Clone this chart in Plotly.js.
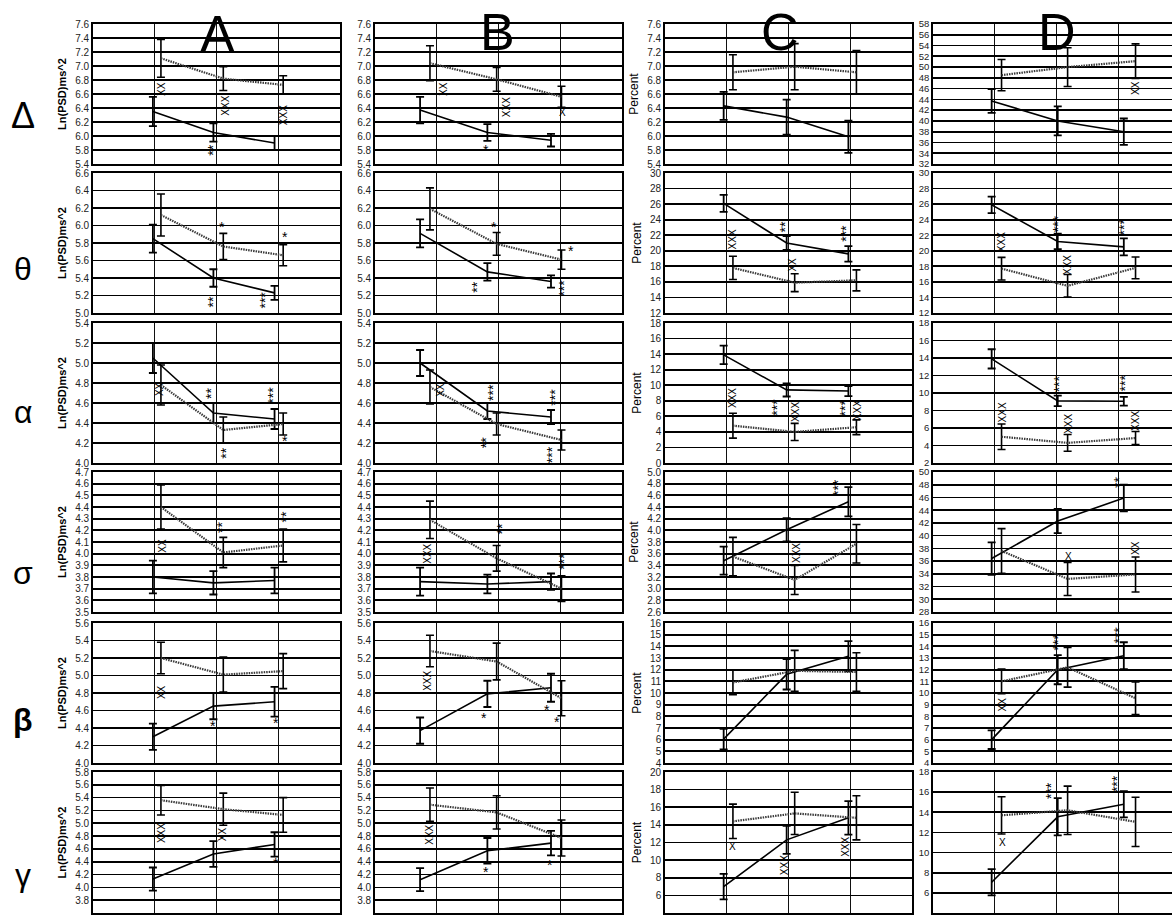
<!DOCTYPE html>
<html><head><meta charset="utf-8">
<script src="https://cdn.plot.ly/plotly-3.0.1.min.js"></script>
<style>html,body{margin:0;padding:0;background:#fff}#chart{width:1172px;height:915px}</style>
</head><body><div id="chart"></div>
<script>
// ---------- categories ----------
const columns = ["A", "B", "C", "D"];
const bands = ["Δ", "θ", "α", "σ", "β", "γ"];
const timepoints = [1, 2, 3];
const yTitles = ["Ln(PSD)ms^2", "", "Percent", ""];

// ---------- series values (rows: Δ, θ, α, σ, β, γ; 3 time points) ----------
const A_solid = [[6.35, 6.05, 5.90], [5.85, 5.40, 5.23], [5.05, 4.50, 4.44], [3.80, 3.75, 3.77], [4.30, 4.65, 4.70], [4.13, 4.52, 4.67]];
const A_solidErr = [[0.21, 0.13, 0.10], [0.16, 0.10, 0.08], [0.15, 0.10, 0.10], [0.14, 0.10, 0.11], [0.15, 0.15, 0.17], [0.18, 0.20, 0.19]];
const A_dotted = [[7.11, 6.82, 6.73], [6.12, 5.76, 5.66], [4.78, 4.33, 4.39], [4.40, 4.01, 4.07], [5.20, 5.01, 5.05], [5.36, 5.22, 5.13]];
const A_dottedErr = [[0.27, 0.17, 0.13], [0.24, 0.15, 0.12], [0.20, 0.13, 0.11], [0.19, 0.13, 0.14], [0.18, 0.20, 0.20], [0.23, 0.25, 0.27]];

const B_solid = [[6.37, 6.05, 5.94], [5.91, 5.47, 5.36], [5.00, 4.52, 4.46], [3.76, 3.74, 3.76], [4.37, 4.79, 4.86], [4.12, 4.57, 4.69]];
const B_solidErr = [[0.19, 0.12, 0.09], [0.16, 0.10, 0.07], [0.13, 0.08, 0.07], [0.12, 0.08, 0.07], [0.15, 0.15, 0.16], [0.18, 0.20, 0.19]];
const B_dotted = [[7.04, 6.81, 6.56], [6.19, 5.79, 5.61], [4.76, 4.39, 4.23], [4.29, 3.96, 3.70], [5.28, 5.16, 4.74], [5.29, 5.17, 4.77]];
const B_dottedErr = [[0.25, 0.17, 0.15], [0.24, 0.13, 0.11], [0.17, 0.11, 0.10], [0.16, 0.11, 0.11], [0.18, 0.21, 0.20], [0.26, 0.26, 0.28]];

const C_solid = [[6.43, 6.27, 5.99], [26.1, 21.0, 19.6], [13.9, 9.4, 9.25], [3.48, 4.01, 4.49], [6.05, 11.6, 13.15], [7.0, 12.3, 14.8]];
const C_solidErr = [[0.20, 0.25, 0.23], [1.1, 0.9, 1.0], [1.2, 0.85, 0.65], [0.24, 0.20, 0.25], [0.88, 1.3, 1.3], [1.45, 1.6, 1.9]];
const C_dotted = [[6.91, 6.99, 6.91], [17.8, 15.9, 16.2], [4.8, 4.0, 4.6], [3.55, 3.15, 3.77], [10.9, 11.9, 11.8], [14.4, 15.3, 14.8]];
const C_dottedErr = [[0.25, 0.33, 0.31], [1.5, 1.15, 1.35], [1.6, 1.1, 0.95], [0.33, 0.25, 0.33], [1.05, 1.75, 1.65], [1.95, 2.4, 2.5]];

const D_solid = [[43.7, 40.0, 38.0], [25.9, 21.2, 20.5], [13.9, 9.1, 9.05], [36.4, 42.3, 45.9], [6.0, 12.0, 13.2], [7.05, 13.55, 14.8]];
const D_solidErr = [[2.2, 2.7, 2.45], [1.05, 1.0, 1.1], [1.1, 0.6, 0.5], [2.55, 1.9, 2.1], [0.8, 1.25, 1.15], [1.3, 1.85, 1.3]];
const D_dotted = [[48.5, 50.0, 51.1], [17.7, 15.5, 17.8], [5.0, 4.3, 4.85], [37.6, 33.2, 33.9], [11.0, 12.2, 9.55], [13.7, 14.2, 13.05]];
const D_dottedErr = [[2.9, 3.6, 3.2], [1.45, 1.45, 1.4], [1.45, 0.95, 0.75], [3.5, 2.6, 2.75], [1.05, 1.7, 1.4], [1.85, 2.4, 2.45]];

// ---------- significance marks: [text, x, y] in each panel's data units ----------
const A_marks = [
  [["XX", 1.10, 6.67], ["XXX", 2.15, 6.43], ["XXX", 3.08, 6.30], ["**", 1.94, 5.80]],
  [["*", 2.09, 5.98], ["*", 3.11, 5.87], ["**", 1.94, 5.13], ["***", 2.78, 5.15]],
  [["XX", 1.07, 4.74], ["**", 1.91, 4.70], ["***", 2.91, 4.68], ["**", 2.15, 4.10], ["*", 3.11, 4.22]],
  [["XX", 1.12, 4.07], ["**", 2.09, 4.22], ["**", 3.11, 4.31]],
  [["XX", 1.10, 4.81], ["*", 1.94, 4.42], ["*", 2.96, 4.46]],
  [["XXX", 1.12, 4.85], ["XX", 2.09, 4.83], ["*", 2.96, 4.38]]
];
const B_marks = [
  [["XX", 1.10, 6.67], ["XXX", 2.12, 6.41], ["X", 3.04, 6.33], ["*", 1.80, 5.80]],
  [["*", 1.93, 5.98], ["*", 3.17, 5.71], ["**", 1.65, 5.30], ["***", 3.06, 5.29]],
  [["XX", 1.05, 4.73], ["***", 1.91, 4.71], ["***", 2.91, 4.66], ["**", 1.80, 4.20], ["***", 2.87, 4.08]],
  [["XXX", 0.86, 4.00], ["**", 2.06, 4.21], ["***", 3.06, 3.94]],
  [["XXX", 0.86, 4.94], ["*", 1.77, 4.51], ["*", 2.79, 4.61], ["*", 2.95, 4.47]],
  [["XXX", 0.89, 4.82], ["*", 1.80, 4.24], ["*", 2.83, 4.35]]
];
const C_marks = [
  [],
  [["XXX", 1.09, 21.5], ["**", 1.94, 23.1], ["***", 2.93, 22.3], ["XX", 2.07, 18.2]],
  [["XXX", 1.09, 8.4], ["***", 1.81, 7.2], ["XXX", 2.11, 6.6], ["***", 2.91, 7.1], ["XXX", 3.11, 6.8]],
  [["***", 2.80, 4.74], ["XXX", 2.12, 3.61]],
  [],
  [["X", 1.09, 11.6], ["XXX", 1.94, 9.4], ["XXX", 2.93, 11.5]]
];
const D_marks = [
  [["XX", 3.27, 46.1]],
  [["XXX", 1.10, 21.1], ["***", 2.02, 23.5], ["***", 3.09, 23.1], ["XXX", 2.19, 18.2]],
  [["XXX", 1.12, 7.8], ["***", 2.04, 11.1], ["***", 3.11, 11.1], ["XXX", 2.19, 6.5], ["XXX", 3.27, 6.8]],
  [["**", 3.01, 48.4], ["X", 2.20, 36.8], ["XX", 3.29, 38.1]],
  [["XX", 1.13, 9.0], ["***", 2.02, 14.4], ["***", 3.01, 15.0]],
  [["X", 1.12, 11.0], ["***", 1.91, 16.2], ["***", 2.98, 16.8]]
];

// ---------- tick labels ----------
const ticksLnDelta = ["5.4", "5.8", "6.0", "6.2", "6.4", "6.6", "6.8", "7.0", "7.2", "7.4", "7.6"];
const ticksLnTheta = ["5.0", "5.2", "5.4", "5.6", "5.8", "6.0", "6.2", "6.4", "6.6"];
const ticksLnAlpha = ["4.0", "4.2", "4.4", "4.6", "4.8", "5.0", "5.2", "5.4"];
const ticksLnSigma = ["3.5", "3.6", "3.7", "3.8", "3.9", "4.0", "4.1", "4.2", "4.3", "4.4", "4.5", "4.6", "4.7"];
const ticksLnBeta = ["4.0", "4.2", "4.4", "4.6", "4.8", "5.0", "5.2", "5.4", "5.6"];
const ticksLnGamma = ["3.6", "3.8", "4.0", "4.2", "4.4", "4.6", "4.8", "5.0", "5.2", "5.4", "5.6", "5.8"];
const ticksPctTheta = ["12", "14", "16", "18", "20", "22", "24", "26", "28", "30"];
const ticksCAlpha = ["0", "2", "4", "6", "8", "10", "12", "14", "16", "18"];
const ticksCSigma = ["2.6", "2.8", "3.0", "3.2", "3.4", "3.6", "3.8", "4.0", "4.2", "4.4", "4.6", "4.8", "5.0"];
const ticksPctBeta = ["4", "5", "6", "7", "8", "9", "10", "11", "12", "13", "14", "15", "16"];
const ticksCGamma = ["4", "6", "8", "10", "12", "14", "16", "18", "20"];
const ticksDDelta = ["32", "34", "36", "38", "40", "42", "44", "46", "48", "50", "52", "54", "56", "58"];
const ticksDAlpha = ["2", "4", "6", "8", "10", "12", "14", "16", "18"];
const ticksDSigma = ["28", "30", "32", "34", "36", "38", "40", "42", "44", "46", "48", "50"];
const ticksDGamma = ["4", "6", "8", "10", "12", "14", "16", "18"];

const yRangeAB = [[5.6, 7.6], [5.0, 6.6], [4.0, 5.4], [3.5, 4.7], [4.0, 5.6], [3.6, 5.8]];
const yRangeC = [[5.6, 7.6], [12, 30], [0, 18], [2.6, 5.0], [4, 16], [4, 20]];
const yRangeD = [[32, 58], [12, 30], [2, 18], [28, 50], [4, 16], [4, 18]];

const tickSets = [
  [ticksLnDelta, ticksLnTheta, ticksLnAlpha, ticksLnSigma, ticksLnBeta, ticksLnGamma],
  [ticksLnDelta, ticksLnTheta, ticksLnAlpha, ticksLnSigma, ticksLnBeta, ticksLnGamma],
  [ticksLnDelta, ticksPctTheta, ticksCAlpha, ticksCSigma, ticksPctBeta, ticksCGamma],
  [ticksDDelta, ticksPctTheta, ticksDAlpha, ticksDSigma, ticksPctBeta, ticksDGamma]
];
const rangeSets = [yRangeAB, yRangeAB, yRangeC, yRangeD];
const solidSets = [A_solid, B_solid, C_solid, D_solid];
const solidErrSets = [A_solidErr, B_solidErr, C_solidErr, D_solidErr];
const dottedSets = [A_dotted, B_dotted, C_dotted, D_dotted];
const dottedErrSets = [A_dottedErr, B_dottedErr, C_dottedErr, D_dottedErr];
const markSets = [A_marks, B_marks, C_marks, D_marks];

// ---------- layout geometry (pixels) ----------
const W = 1172, H = 915;
const colPx = [[93, 340], [375, 622], [665, 912], [933, 1180]];
const rowPx = [[24, 164], [173, 313], [323, 463], [472, 612], [623, 763], [772, 913]];
const unitPx = 61.75;
// horizontal placement of the two series around each time point
const shiftSolid = [[-0.03, -0.05, -0.06], [-0.27, -0.18, -0.15], [-0.05, -0.03, -0.03], [-0.05, 0.02, 0.09]];
const shiftDotted = [[0.10, 0.11, 0.08], [-0.11, -0.03, 0.02], [0.10, 0.10, 0.10], [0.11, 0.18, 0.28]];
const FONT = "Liberation Sans, Arial, sans-serif";

const traces = [];
const layout = {
  width: W, height: H, margin: {l: 0, r: 0, t: 0, b: 0},
  paper_bgcolor: "#fff", plot_bgcolor: "#fff", showlegend: false,
  font: {family: FONT, color: "#000"},
  annotations: []
};

for (let r = 0; r < bands.length; r++) {
  for (let c = 0; c < columns.length; c++) {
    const p = r * 4 + c + 1;
    const xs = p === 1 ? "x" : "x" + p;
    const ys = p === 1 ? "y" : "y" + p;
    const xa = p === 1 ? "xaxis" : "xaxis" + p;
    const ya = p === 1 ? "yaxis" : "yaxis" + p;
    const x0 = colPx[c][0], x1 = Math.min(colPx[c][1], W);
    const xr = (x1 - x0) / unitPx;
    const rng = rangeSets[c][r];
    const labels = tickSets[c][r];
    const vals = labels.map((_, i) => rng[0] + i * (rng[1] - rng[0]) / (labels.length - 1));

    layout[xa] = {
      domain: [x0 / W, x1 / W], range: [0, xr], anchor: ys,
      tickvals: timepoints, showticklabels: false, ticks: "",
      showgrid: true, gridcolor: "#111", gridwidth: 1.3, zeroline: false,
      showline: true, mirror: true, linecolor: "#000", linewidth: 1.8, fixedrange: true
    };
    layout[ya] = {
      domain: [1 - rowPx[r][1] / H, 1 - rowPx[r][0] / H], range: rng, anchor: xs,
      tickvals: vals, ticktext: labels, ticks: "",
      showgrid: true, gridcolor: "#000", gridwidth: 1.7, zeroline: false,
      showline: true, mirror: c !== 3, linecolor: "#000", linewidth: 1.8, fixedrange: true,
      tickfont: {family: FONT, size: c === 3 ? 9.5 : 10, color: "#222"}
    };
    if (yTitles[c]) {
      layout[ya].title = {
        text: c === 0 ? "<b>" + yTitles[c] + "</b>" : yTitles[c],
        font: {family: FONT, size: c === 0 ? 11 : 12, color: "#000"},
        standoff: 6
      };
    }

    traces.push({
      type: "scatter", mode: "lines", xaxis: xs, yaxis: ys,
      x: timepoints.map((t, i) => t + shiftSolid[c][i]), y: solidSets[c][r],
      line: {color: "#000", width: 1.6},
      error_y: {type: "data", array: solidErrSets[c][r], visible: true, color: "#000", thickness: 1.8, width: 4},
      hoverinfo: "skip"
    });
    traces.push({
      type: "scatter", mode: "lines", xaxis: xs, yaxis: ys,
      x: timepoints.map((t, i) => t + shiftDotted[c][i]), y: dottedSets[c][r],
      line: {color: "#3a3a3a", width: 2.2, dash: "1.5px,1px"},
      error_y: {type: "data", array: dottedErrSets[c][r], visible: true, color: "#000", thickness: 1.6, width: 4},
      hoverinfo: "skip"
    });

    markSets[c][r].forEach(m => {
      const isStar = m[0].indexOf("*") >= 0;
      layout.annotations.push({
        xref: xs, yref: ys, x: m[1], y: m[2], text: m[0], showarrow: false,
        textangle: m[0].length > 1 ? -90 : 0,
        font: {family: FONT, size: isStar ? 14 : 10, color: "#000"}
      });
    });
  }
}

// column headers
const headerPx = [[217, 34], [497, 32], [780, 32], [1057, 32]];
columns.forEach((t, i) => {
  layout.annotations.push({
    xref: "paper", yref: "paper", x: headerPx[i][0] / W, y: 1 - headerPx[i][1] / H,
    xanchor: "center", yanchor: "middle", text: t, showarrow: false,
    font: {family: FONT, size: 52, color: "#000"}
  });
});
// row labels
const rowLabelY = [115, 269, 412, 573, 720, 875];
bands.forEach((t, i) => {
  layout.annotations.push({
    xref: "paper", yref: "paper", x: 23 / W, y: 1 - rowLabelY[i] / H,
    xanchor: "center", yanchor: "middle", text: t === "β" ? "<b>" + t + "</b>" : t, showarrow: false,
    font: {family: FONT, size: t === "Δ" ? 36 : 32, color: "#000"}
  });
});

Plotly.newPlot("chart", traces, layout, {staticPlot: true, displayModeBar: false});
</script>
</body></html>
